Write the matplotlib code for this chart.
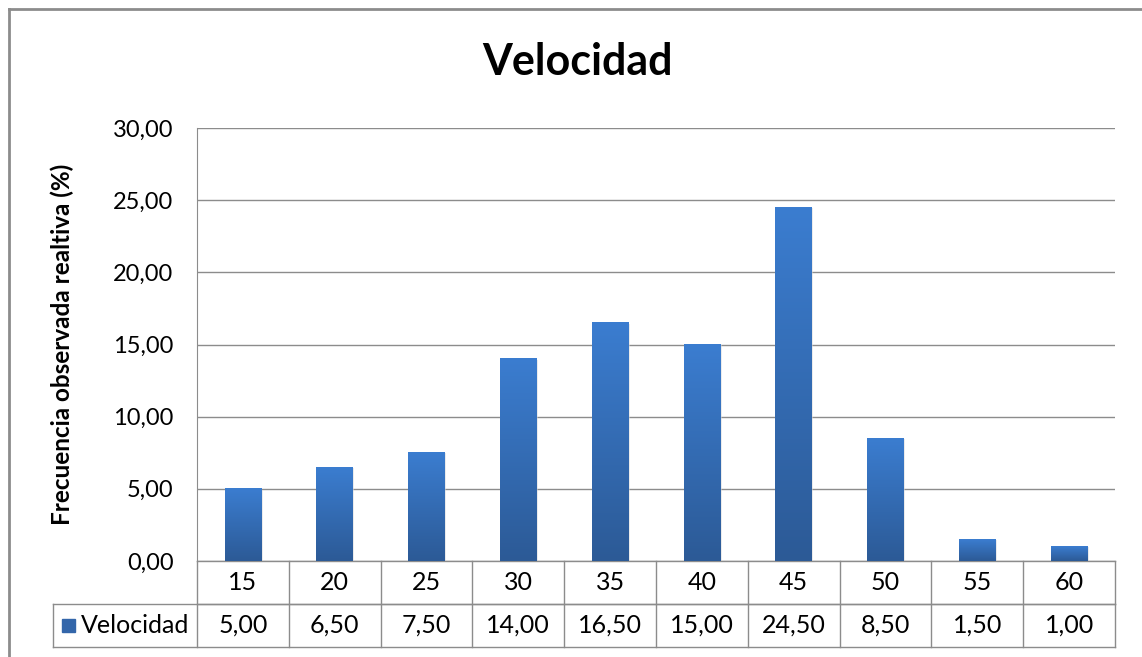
import numpy as np
import matplotlib.pyplot as plt
from matplotlib.colors import LinearSegmentedColormap
from matplotlib.lines import Line2D
from matplotlib.patches import Rectangle

# Datos
categorias = ['15', '20', '25', '30', '35', '40', '45', '50', '55', '60']
valores = [5.00, 6.50, 7.50, 14.00, 16.50, 15.00, 24.50, 8.50, 1.50, 1.00]
serie = 'Velocidad'
yticks = [0, 5, 10, 15, 20, 25, 30]

plt.rcParams['font.family'] = ['Lato', 'DejaVu Sans']

def coma(v):
    return ('%.2f' % v).replace('.', ',')

W, H = 1142, 657
fig = plt.figure(figsize=(W / 100, H / 100), dpi=100)
ax = fig.add_axes([197 / W, 1 - 561 / H, 918 / W, 433 / H])

gris = '#8c8c8c'
grad = LinearSegmentedColormap.from_list('azul', ['#2c5a96', '#3b7dd0'])
img = np.linspace(0, 1, 256).reshape(-1, 1)

x = np.arange(len(categorias))
ancho = 0.4
for xi, v in zip(x, valores):
    # sombra suave
    ax.add_patch(Rectangle((xi - ancho / 2 + 0.015, 0), ancho, v - 0.05,
                           color='#d8d8d8', alpha=0.5, zorder=2, lw=0))
    ax.imshow(img, cmap=grad, origin='lower', aspect='auto',
              extent=[xi - ancho / 2, xi + ancho / 2, 0, v], zorder=3)

ax.set_xlim(-0.5, len(categorias) - 0.5)
ax.set_ylim(0, 30)
ax.set_yticks(yticks)
ax.set_yticklabels([coma(t) for t in yticks], fontsize=17)
ax.set_xticks([])
ax.tick_params(axis='y', length=0, pad=17)
ax.yaxis.grid(True, color=gris, lw=1)
ax.set_axisbelow(True)
for s in ['top', 'right', 'bottom']:
    ax.spines[s].set_visible(False)
ax.spines['left'].set_color(gris)

ax.set_ylabel('Frecuencia observada realtiva (%)', fontsize=17.5,
              fontweight='bold', labelpad=28)
fig.text(577 / W, 1 - 62 / H, 'Velocidad', fontsize=31, fontweight='bold',
         ha='center', va='center')

# Tabla de datos debajo del eje
fila = 43 / 433
izq = (53 - 197) / 918
lineas = [
    ([0, 1], [0, 0]),
    ([0, 1], [-fila, -fila]),
    ([izq, 1], [-fila, -fila]),
    ([izq, 1], [-2 * fila, -2 * fila]),
    ([izq, izq], [-fila, -2 * fila]),
]
for xs, ys in lineas:
    ax.add_line(Line2D(xs, ys, transform=ax.transAxes, color=gris, lw=1,
                       clip_on=False))
for i in range(len(categorias) + 1):
    xa = i / len(categorias)
    ax.add_line(Line2D([xa, xa], [0, -2 * fila], transform=ax.transAxes,
                       color=gris, lw=1, clip_on=False))
for i, (c, v) in enumerate(zip(categorias, valores)):
    xa = (i + 0.5) / len(categorias)
    ax.text(xa, -0.5 * fila, c, transform=ax.transAxes, ha='center',
            va='center', fontsize=18)
    ax.text(xa, -1.5 * fila, coma(v), transform=ax.transAxes, ha='center',
            va='center', fontsize=18)

# clave de la leyenda
ax.add_patch(Rectangle((izq + 9 / 918, -1.5 * fila - 6.5 / 433), 13 / 918,
                       13 / 433, transform=ax.transAxes, color='#3366aa',
                       clip_on=False))
ax.text(izq + 28 / 918, -1.5 * fila, serie, transform=ax.transAxes,
        ha='left', va='center', fontsize=18)

# marco exterior
fig.add_artist(Line2D([9 / W, 9 / W], [0, 1 - 9 / H], color=gris, lw=2))
fig.add_artist(Line2D([9 / W, 1], [1 - 9 / H, 1 - 9 / H], color=gris, lw=2))

fig.savefig('out.png', dpi=100)
